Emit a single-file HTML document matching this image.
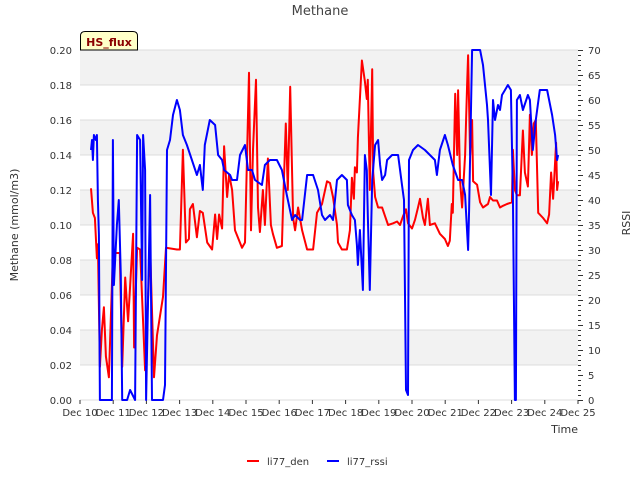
<!DOCTYPE html>
<html><head><meta charset="utf-8"><style>
body{margin:0;background:#fff;font-family:"Liberation Sans","DejaVu Sans",sans-serif}
svg text{font-family:"DejaVu Sans","Liberation Sans",sans-serif}
</style></head><body>
<svg id="chart" width="640" height="480" xmlns="http://www.w3.org/2000/svg">
<g id="bands"></g><g id="grid"></g>
<text x="320" y="15" text-anchor="middle" font-size="13" fill="#444">Methane</text>
<text transform="translate(18,225) rotate(-90)" text-anchor="middle" font-size="11" fill="#333">Methane (mmol/m3)</text>
<text transform="translate(630,223) rotate(-90)" text-anchor="middle" font-size="11" fill="#333">RSSI</text>
<text x="578" y="433" text-anchor="end" font-size="11" fill="#333">Time</text>
<g id="axes"></g><g id="series"></g>
<g>
<path d="M80.5,50 L80.5,36 Q80.5,31.5 85,31.5 L133,31.5 Q137.5,31.5 137.5,36 L137.5,50 Z" fill="#ffffc8" stroke="#000" stroke-width="1"/>
<text x="109" y="46" text-anchor="middle" font-size="11" font-weight="bold" fill="#8b0000">HS_flux</text>
</g>
<g>
<g><line x1="247" y1="461" x2="259" y2="461" stroke="#f00" stroke-width="2"/><text x="267" y="465" font-size="10" fill="#333">li77_den</text></g>
<g><line x1="327" y1="461" x2="339" y2="461" stroke="#00f" stroke-width="2"/><text x="347" y="465" font-size="10" fill="#333">li77_rssi</text></g>
</g>
</svg>
<script>
const xTickLabels=["Dec 10","Dec 11","Dec 12","Dec 13","Dec 14","Dec 15","Dec 16","Dec 17","Dec 18","Dec 19","Dec 20","Dec 21","Dec 22","Dec 23","Dec 24","Dec 25"];
const yTicks=[0,0.02,0.04,0.06,0.08,0.10,0.12,0.14,0.16,0.18,0.20];
const y2Ticks=[0,5,10,15,20,25,30,35,40,45,50,55,60,65,70];
const denDays=[0.33,0.39,0.45,0.51,0.54,0.60,0.66,0.72,0.78,0.87,0.99,1.08,1.20,1.27,1.36,1.45,1.60,1.63,1.72,1.81,1.96,2.11,2.23,2.32,2.50,2.59,2.92,3.01,3.10,3.19,3.28,3.31,3.40,3.52,3.61,3.70,3.83,3.98,4.07,4.13,4.19,4.28,4.34,4.43,4.49,4.58,4.67,4.88,4.97,5.09,5.15,5.21,5.30,5.36,5.42,5.51,5.57,5.66,5.75,5.81,5.93,6.08,6.11,6.20,6.26,6.33,6.42,6.48,6.57,6.69,6.84,7.02,7.14,7.29,7.44,7.53,7.62,7.74,7.77,7.89,8.04,8.13,8.19,8.25,8.28,8.34,8.37,8.49,8.58,8.64,8.67,8.73,8.80,8.83,8.89,8.98,9.10,9.19,9.28,9.43,9.55,9.64,9.73,9.82,9.88,10.00,10.09,10.18,10.24,10.33,10.39,10.48,10.54,10.69,10.84,10.99,11.08,11.14,11.20,11.23,11.30,11.36,11.39,11.45,11.51,11.60,11.66,11.69,11.75,11.81,11.84,11.96,12.05,12.14,12.29,12.35,12.44,12.56,12.65,12.74,12.86,13.01,13.04,13.10,13.16,13.25,13.34,13.40,13.49,13.55,13.61,13.67,13.73,13.80,13.95,14.07,14.13,14.19,14.25,14.28,14.34,14.37,14.40];
const denValues=[0.121,0.107,0.104,0.081,0.089,0.019,0.04,0.053,0.025,0.013,0.083,0.084,0.084,0.019,0.07,0.045,0.095,0.03,0.087,0.086,0.017,0.087,0.013,0.037,0.059,0.087,0.086,0.086,0.143,0.09,0.092,0.109,0.112,0.093,0.108,0.107,0.09,0.086,0.106,0.092,0.106,0.098,0.145,0.116,0.129,0.12,0.097,0.087,0.09,0.187,0.097,0.143,0.183,0.11,0.096,0.12,0.1,0.138,0.1,0.095,0.087,0.088,0.108,0.158,0.12,0.179,0.104,0.097,0.11,0.097,0.086,0.086,0.107,0.112,0.125,0.124,0.116,0.1,0.09,0.086,0.086,0.097,0.127,0.115,0.133,0.13,0.15,0.194,0.182,0.172,0.183,0.12,0.189,0.13,0.116,0.11,0.11,0.105,0.1,0.101,0.102,0.1,0.105,0.109,0.101,0.098,0.103,0.11,0.115,0.104,0.1,0.115,0.1,0.101,0.095,0.092,0.088,0.091,0.112,0.107,0.175,0.14,0.177,0.125,0.11,0.14,0.18,0.197,0.14,0.16,0.125,0.123,0.113,0.11,0.112,0.116,0.114,0.114,0.11,0.111,0.112,0.113,0.143,0.12,0.117,0.117,0.154,0.13,0.122,0.163,0.14,0.158,0.16,0.107,0.104,0.101,0.106,0.13,0.115,0.125,0.147,0.12,0.125];
const rssiDays=[0.33,0.36,0.39,0.42,0.48,0.51,0.54,0.57,0.60,0.75,0.96,0.99,1.02,1.11,1.17,1.23,1.27,1.42,1.51,1.66,1.72,1.81,1.87,1.90,1.96,1.99,2.11,2.17,2.50,2.56,2.62,2.71,2.80,2.92,3.01,3.10,3.22,3.37,3.52,3.61,3.70,3.76,3.91,4.07,4.16,4.28,4.34,4.52,4.58,4.73,4.82,4.97,5.06,5.18,5.27,5.48,5.57,5.72,5.93,6.08,6.23,6.39,6.48,6.63,6.69,6.84,7.02,7.17,7.29,7.38,7.53,7.62,7.74,7.89,8.04,8.07,8.19,8.28,8.34,8.37,8.43,8.52,8.58,8.64,8.67,8.73,8.80,8.89,8.98,9.04,9.10,9.19,9.25,9.40,9.58,9.70,9.76,9.82,9.88,9.91,10.03,10.18,10.39,10.54,10.69,10.75,10.84,10.99,11.08,11.23,11.39,11.51,11.60,11.69,11.72,11.81,12.05,12.14,12.20,12.26,12.29,12.38,12.44,12.50,12.59,12.65,12.71,12.80,12.89,12.98,13.04,13.10,13.13,13.16,13.25,13.34,13.49,13.55,13.64,13.73,13.85,14.07,14.22,14.31,14.37,14.40];
const rssiValues=[50,52,48,53,52,53,40,33,0,0,0,52,23,35,40,25,0,0,2,0,53,52,24,53,46,0,41,0,0,3,50,52,57,60,58,53,51,48,45,47,42,51,56,55,49,48,46,45,44,44,49,51,46,46,44,43,47,48,48,46,41,36,37,36,36,45,45,42,37,36,37,36,44,45,44,39,37,36,31,27,34,22,49,46,37,22,44,51,52,47,44,45,48,49,49,43,40,2,1,48,50,51,50,49,48,45,50,53,51,47,44,44,41,30,38,70,70,67,63,59,56,41,60,56,59,58,61,62,63,62,41,0,0,60,61,58,61,60,50,56,62,62,57,53,48,49];

const NS="http://www.w3.org/2000/svg";
const L=80,R=578,T=50,B=400;
const xS=d=>L+d*(R-L)/15;
const yS=v=>B-v*(B-T)/0.2;
const y2S=v=>B-v*(B-T)/70;
function mk(tag,attrs,parent){const e=document.createElementNS(NS,tag);for(const k in attrs)e.setAttribute(k,attrs[k]);parent.appendChild(e);return e;}
const bands=document.getElementById('bands'),grid=document.getElementById('grid'),axes=document.getElementById('axes'),series=document.getElementById('series');
for(let i=0;i<yTicks.length-1;i++){
  if(i%2===1){const r=mk('rect',{x:L,y:yS(yTicks[i+1]),width:R-L,height:yS(yTicks[i])-yS(yTicks[i+1]),fill:'#f2f2f2'},bands);
  
  }
}
yTicks.forEach(v=>{
  const g=mk('line',{x1:L,x2:R,y1:yS(v),y2:yS(v),stroke:'#dcdcdc','stroke-width':1},grid);
  
  
  const t=mk('text',{x:L-8,y:yS(v)+4,'text-anchor':'end','font-size':10,fill:'#333'},axes);
  t.textContent=v.toFixed(2);
  
  
});
y2Ticks.forEach(v=>{
  const t=mk('text',{x:R+10,y:y2S(v)+4,'text-anchor':'start','font-size':10,fill:'#333'},axes);
  t.textContent=v;
  
  
});
for(let v=0;v<=70;v++){
  const tk=mk('line',{x1:R,x2:R+(v%5===0?5:3),y1:y2S(v)+0.5,y2:y2S(v)+0.5,stroke:'#333','stroke-width':1},axes);
  
  
}
xTickLabels.forEach((s,i)=>{
  const t=mk('text',{x:xS(i),y:416,'text-anchor':'middle','font-size':10,fill:'#333'},axes);
  t.textContent=s;
  
  
  const tk=mk('line',{x1:xS(i),x2:xS(i),y1:B,y2:B+4,stroke:'#333'},axes);
  
  
});
const den=mk('polyline',{points:denDays.map((d,i)=>xS(d).toFixed(1)+','+yS(denValues[i]).toFixed(1)).join(' '),fill:'none',stroke:'#f00','stroke-width':2,'stroke-linejoin':'round'},series);


const rs=mk('polyline',{points:rssiDays.map((d,i)=>xS(d).toFixed(1)+','+y2S(rssiValues[i]).toFixed(1)).join(' '),fill:'none',stroke:'#00f','stroke-width':2,'stroke-linejoin':'round'},series);


</script>
</body></html>
